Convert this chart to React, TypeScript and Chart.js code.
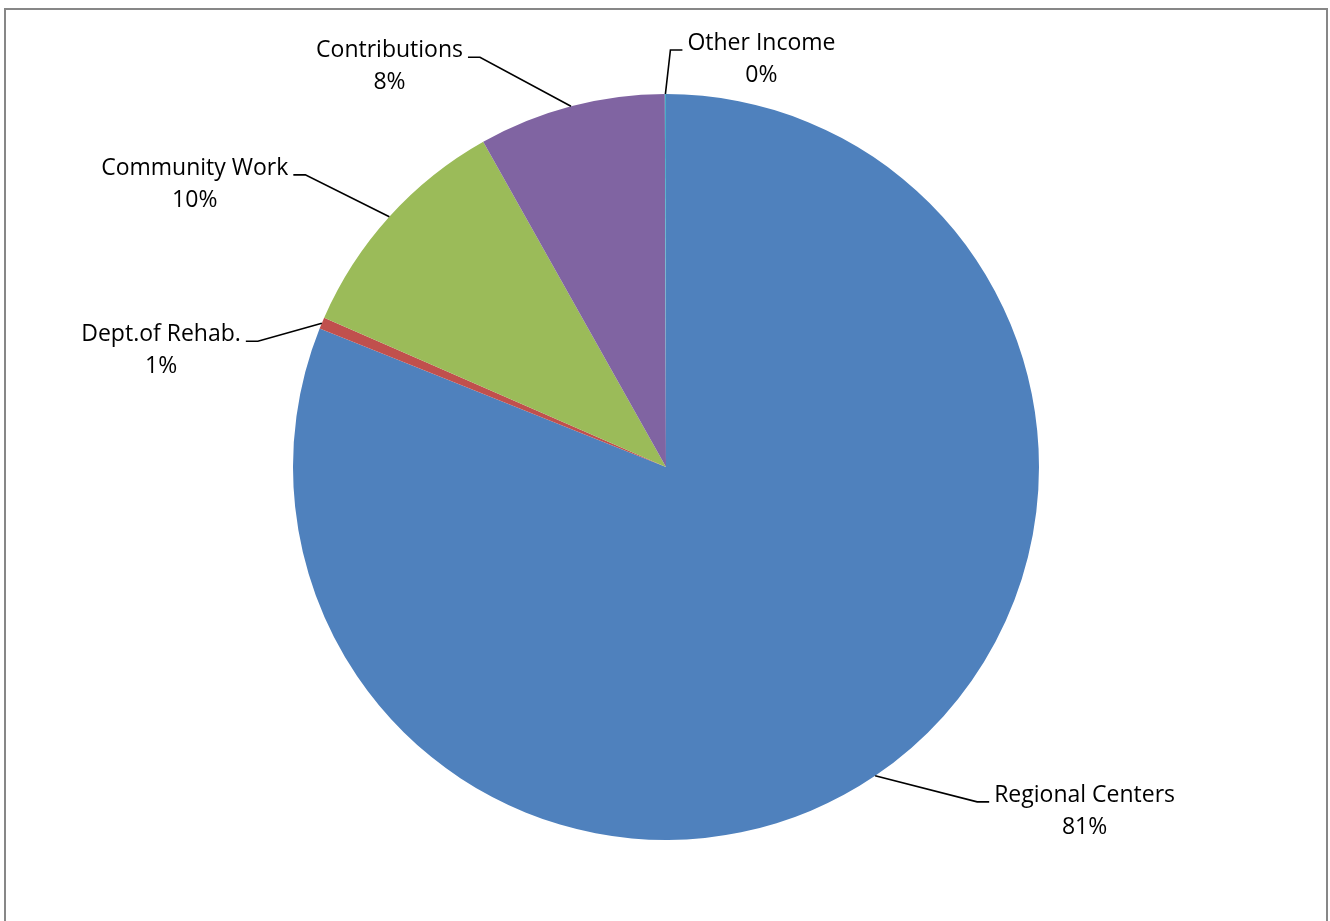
import React, { useEffect, useRef } from "react";
import { Chart, registerables } from "chart.js";

Chart.register(...registerables);

// ---- data ----
const categories = ["Regional Centers", "Dept.of Rehab.", "Community Work", "Contributions", "Other Income"];
const shares = [81.05, 0.5, 10.3, 8.1, 0.05];
const sliceColors = ["#4F81BD", "#C0504D", "#9BBB59", "#8064A2", "#4BACC6"];

// ---- label layout (leader elbow offset from slice edge midpoint) ----
const leaderOffsets: [number, number][] = [
  [102, 26],
  [-64, 18],
  [-84, -42],
  [-91, -49],
  [5, -44],
];

const LABEL_FONT = '23px "Open Sans", sans-serif';
const LINE_GAP = 32;

const labelPlugin = {
  id: "excelLabels",
  afterDatasetsDraw(chart: any) {
    const ctx = chart.ctx as CanvasRenderingContext2D;
    const meta = chart.getDatasetMeta(0);
    const data = chart.data.datasets[0].data as number[];
    const total = data.reduce((a, b) => a + b, 0);
    ctx.save();
    ctx.font = LABEL_FONT;
    ctx.fillStyle = "#000";
    ctx.strokeStyle = "#000";
    ctx.lineWidth = 1.6;
    meta.data.forEach((arc: any, i: number) => {
      const p = arc.getProps(["x", "y", "startAngle", "endAngle", "outerRadius"], true);
      const mid = (p.startAngle + p.endAngle) / 2;
      const sx = p.x + Math.cos(mid) * p.outerRadius;
      const sy = p.y + Math.sin(mid) * p.outerRadius;
      const [ox, oy] = leaderOffsets[i];
      const ex = sx + ox;
      const ey = sy + oy;
      const right = ex > p.x;
      const dir = right ? 1 : -1;
      const hx = ex + dir * 12;
      ctx.beginPath();
      ctx.moveTo(sx, sy);
      ctx.lineTo(ex, ey);
      ctx.lineTo(hx, ey);
      ctx.stroke();
      const name = String(chart.data.labels[i]);
      const w = ctx.measureText(name).width;
      const cx = right ? hx + 5 + w / 2 : hx - 5 - w / 2;
      ctx.textAlign = "center";
      ctx.textBaseline = "alphabetic";
      ctx.fillText(name, cx, ey);
      const pct = Math.round((data[i] * 100) / total) + "%";
      ctx.fillText(pct, cx, ey + LINE_GAP);
    });
    ctx.restore();
  },
};

export default function App() {
  const canvasRef = useRef<HTMLCanvasElement | null>(null);

  useEffect(() => {
    if (!canvasRef.current) return;
    const chart = new Chart(canvasRef.current, {
      type: "pie",
      data: {
        labels: categories,
        datasets: [
          {
            data: shares,
            backgroundColor: sliceColors,
            borderWidth: 0,
          },
        ],
      },
      options: {
        responsive: false,
        animation: false,
        devicePixelRatio: 1,
        layout: { padding: { left: 293, right: 291, top: 94, bottom: 81 } },
        plugins: {
          legend: { display: false },
          tooltip: { enabled: false },
        },
      },
      plugins: [labelPlugin],
    });
    return () => chart.destroy();
  }, []);

  return (
    <div
      style={{
        position: "absolute",
        left: 0,
        top: 0,
        width: 1330,
        height: 921,
        overflow: "hidden",
        background: "#fff",
      }}
    >
      <canvas ref={canvasRef} width={1330} height={921} style={{ display: "block", position: "absolute", left: 0, top: 0 }} />
      <div
        style={{
          position: "absolute",
          left: 4,
          top: 8,
          width: 1324,
          height: 1000,
          border: "2px solid #878787",
          boxSizing: "border-box",
          pointerEvents: "none",
        }}
      />
    </div>
  );
}
